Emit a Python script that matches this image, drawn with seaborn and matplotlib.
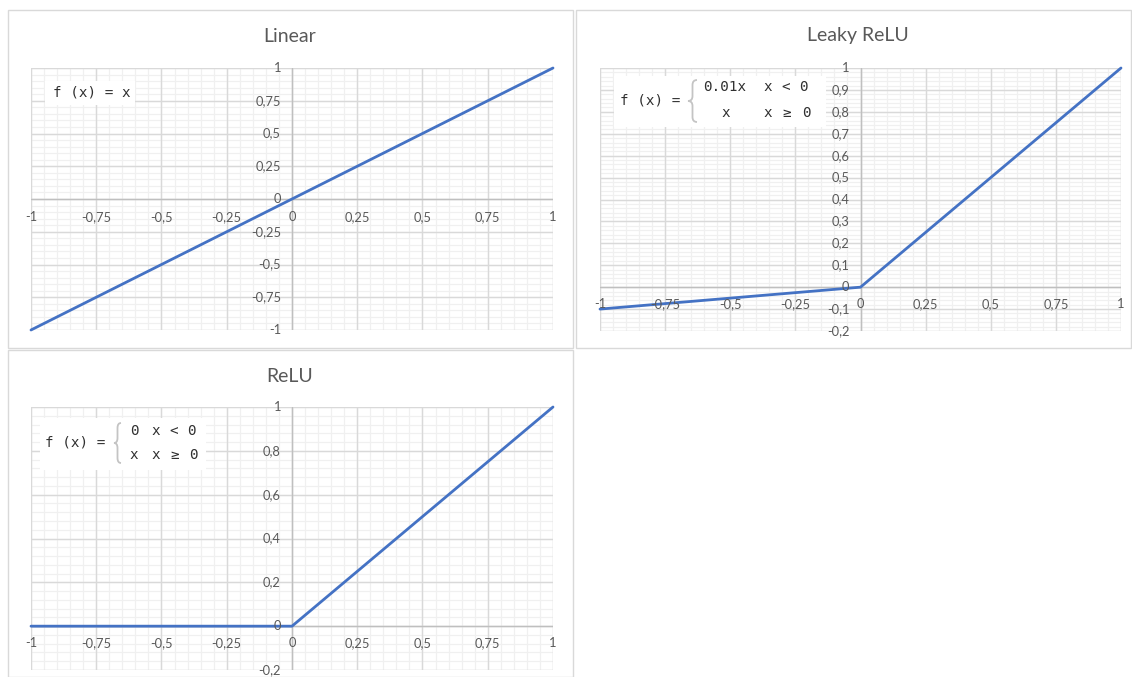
import matplotlib
matplotlib.use("Agg")
import matplotlib.pyplot as plt
import matplotlib.transforms as mtransforms
from matplotlib.patches import Rectangle, PathPatch
from matplotlib.path import Path
import seaborn as sns
import pandas as pd
import numpy as np

sns.set_style("white")
plt.rcParams['font.family'] = ['Lato', 'DejaVu Sans']

# ---- data ----
x_vals = [-1.0, 0.0, 1.0]
linear_y = [-1.0, 0.0, 1.0]
leaky_y = [-0.1, 0.0, 1.0]
relu_y = [0.0, 0.0, 1.0]

titles = ["Linear", "Leaky ReLU", "ReLU"]
x_ticks = [-1, -0.75, -0.5, -0.25, 0, 0.25, 0.5, 0.75, 1]
linear_yticks = [-1, -0.75, -0.5, -0.25, 0, 0.25, 0.5, 0.75, 1]
leaky_yticks = [-0.2, -0.1, 0, 0.1, 0.2, 0.3, 0.4, 0.5, 0.6, 0.7, 0.8, 0.9, 1]
relu_yticks = [-0.2, 0, 0.2, 0.4, 0.6, 0.8, 1]

LINE = "#4472C4"
GRID_MAJ = "#d9d9d9"
GRID_MIN = "#f0f0f0"
TXT = "#595959"

W, H = 1132, 677
fig = plt.figure(figsize=(W / 100, H / 100), dpi=100)
fig.patch.set_facecolor("white")


def fx(px):
    return px / W


def fy(py):
    return 1 - py / H


def fmt(v):
    return ("%g" % v).replace(".", ",")


# panel borders
for (x0, y0, x1, y1) in [(8, 10, 573, 348), (576, 10, 1131, 348), (8, 350, 573, 677)]:
    fig.patches.append(Rectangle((fx(x0), fy(y1)), fx(x1) - fx(x0), fy(y0) - fy(y1),
                                 transform=fig.transFigure, fill=False,
                                 edgecolor="#d9d9d9", linewidth=1.0))


def make_panel(box, title, title_pos, ys, yticks, ymin, ymax, ymajor, xoff_lab, yoff_lab):
    l, t, r, b = box
    ax = fig.add_axes([fx(l), fy(b), fx(r) - fx(l), fy(t) - fy(b)])
    ax.set_xlim(-1, 1)
    ax.set_ylim(ymin, ymax)
    xminor = np.round(np.arange(-1, 1.0001, 0.05), 4)
    yminor = np.round(np.arange(ymin, ymax + 1e-6, ymajor / 5), 4)
    for xv in xminor:
        ax.axvline(xv, color=GRID_MIN, lw=0.9, zorder=0)
    for yv in yminor:
        ax.axhline(yv, color=GRID_MIN, lw=0.9, zorder=0)
    for xv in x_ticks:
        ax.axvline(xv, color=GRID_MAJ, lw=1.0, zorder=1)
    for yv in yticks:
        ax.axhline(yv, color=GRID_MAJ, lw=1.0, zorder=1)
    ax.axhline(0, color="#bfbfbf", lw=1.0, zorder=2)
    ax.axvline(0, color="#bfbfbf", lw=1.0, zorder=2)
    for s in ax.spines.values():
        s.set_visible(False)
    ax.set_xticks([])
    ax.set_yticks([])
    df = pd.DataFrame({"x": x_vals, "y": ys})
    sns.lineplot(data=df, x="x", y="y", ax=ax, color=LINE, lw=2.0, zorder=5,
                 clip_on=False, sort=False)
    ax.set_xlabel("")
    ax.set_ylabel("")
    tr_x = ax.transData + mtransforms.ScaledTranslation(0, -yoff_lab / 100, fig.dpi_scale_trans)
    for xv in x_ticks:
        ax.text(xv, 0, fmt(xv), transform=tr_x, ha="center", va="center",
                fontsize=9.3, color=TXT, zorder=6, clip_on=False)
    tr_y = ax.transData + mtransforms.ScaledTranslation(-xoff_lab / 100, 0, fig.dpi_scale_trans)
    for yv in yticks:
        ax.text(0, yv, fmt(yv), transform=tr_y, ha="right", va="center",
                fontsize=9.3, color=TXT, zorder=6, clip_on=False)
    fig.text(fx(title_pos[0]), fy(title_pos[1]), title, ha="center", va="center",
             fontsize=14, color=TXT)
    return ax


ax1 = make_panel((31, 68, 553, 330), titles[0], (290, 37), linear_y, linear_yticks,
                 -1, 1, 0.25, 11, 18)
ax2 = make_panel((600, 68, 1121, 331), titles[1], (858, 36), leaky_y, leaky_yticks,
                 -0.2, 1, 0.1, 11, 17)
ax3 = make_panel((31, 407, 553, 670), titles[2], (290, 376), relu_y, relu_yticks,
                 -0.2, 1, 0.2, 11, 17)

MONO = "DejaVu Sans Mono"
FC = "#303030"


def box(x0, y0, x1, y1):
    fig.patches.append(Rectangle((fx(x0), fy(y1)), fx(x1) - fx(x0), fy(y0) - fy(y1),
                                 transform=fig.transFigure, facecolor="white",
                                 edgecolor="none", zorder=10))


def ftxt(x, y, s, size=10.3, color=FC, ha="left"):
    fig.text(fx(x), fy(y), s, ha=ha, va="center", fontsize=size, color=color,
             family=MONO, zorder=11)


def cond(xs, y, chars):
    for xc, ch in zip(xs, chars):
        ftxt(xc, y, ch, ha="center")


def brace(xl, xr, yt, yb):
    xm = (xl + xr) / 2.0
    ym = (yt + yb) / 2.0
    pts = [(xr, yt), (xm, yt), (xm, yt + 5), (xm, ym - 5), (xm, ym), (xl, ym),
           (xm, ym), (xm, ym + 5), (xm, yb - 5), (xm, yb), (xr, yb)]
    codes = [Path.MOVETO, Path.CURVE3, Path.CURVE3, Path.LINETO, Path.CURVE3, Path.CURVE3,
             Path.CURVE3, Path.CURVE3, Path.LINETO, Path.CURVE3, Path.CURVE3]
    verts = [(fx(a), fy(b)) for a, b in pts]
    fig.patches.append(PathPatch(Path(verts, codes), transform=fig.transFigure,
                                 fill=False, edgecolor="#c4c4c4", lw=1.3, zorder=11))


# Linear formula
box(45, 81, 135, 105)
ftxt(53, 93, "f (x) = x")

# Leaky formula
box(614, 76, 826, 127)
ftxt(620, 101, "f (x) =")
brace(688, 697, 80, 122)
ftxt(703, 87, "0.01x")
cond([768, 786, 803], 87, ["x", "<", "0"])
ftxt(726, 113, "x", ha="center")
cond([768, 787, 806], 113, ["x", "≥", "0"])

# ReLU formula
box(40, 418, 206, 470)
ftxt(45, 443, "f (x) =")
brace(114, 121, 423, 463)
ftxt(134, 431, "0", ha="center")
cond([156, 174, 191], 431, ["x", "<", "0"])
ftxt(134, 455, "x", ha="center")
cond([156, 175, 193], 455, ["x", "≥", "0"])

fig.savefig("out.png", dpi=100, facecolor="white")
